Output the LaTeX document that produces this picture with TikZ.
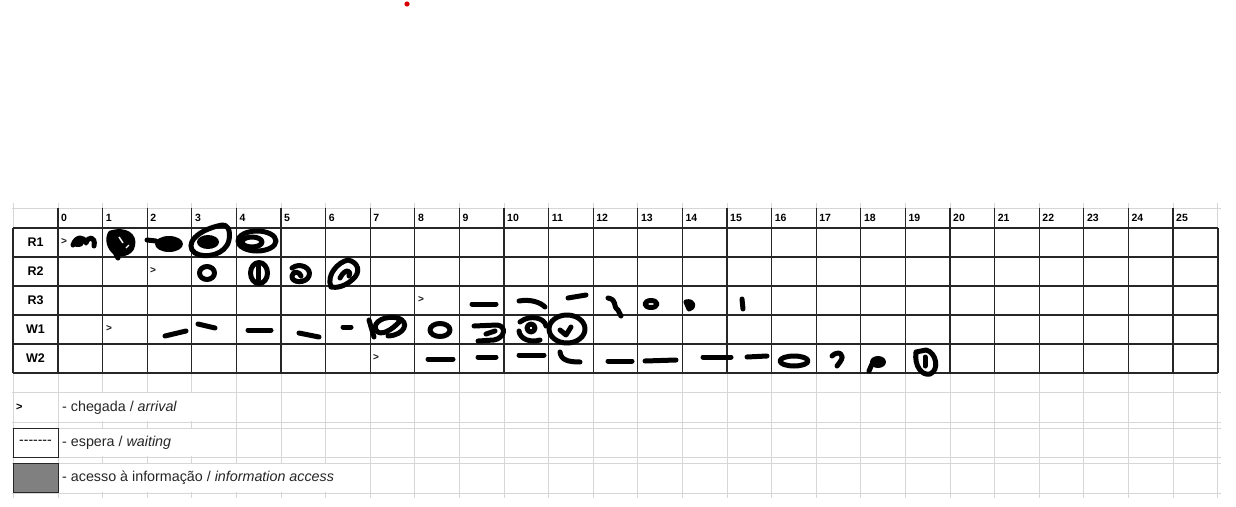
\documentclass[tikz,border=0pt]{standalone}
\usepackage{fontspec}
\setmainfont{Liberation Sans}
\usetikzlibrary{positioning,calc}

\tikzset{
  gridline/.style={draw=black!16,line width=1pt},
  tabline/.style={draw=black!85,line width=1.3pt},
  hdr/.style={font=\fontsize{10.5}{12}\selectfont\bfseries,anchor=west,inner sep=0pt},
  rowlab/.style={font=\fontsize{12.5}{14}\selectfont\bfseries,inner sep=0pt},
  arrmark/.style={font=\fontsize{10}{11}\selectfont\bfseries,anchor=west,inner sep=0pt,text=black!90},
  legtext/.style={font=\fontsize{14.3}{17}\selectfont,anchor=west,inner sep=0pt,text=black!85},
  legbox/.style={draw=black!85,line width=1pt,minimum width=45pt,inner sep=0pt},
  scrib/.style={line width=5pt,line cap=round,line join=round},
  mask/.style={fill=white,draw=none}
}

\begin{document}
\begin{tikzpicture}[x=1pt,y=-1pt]
  \useasboundingbox (0,0) rectangle (1236,506);

  % sheet grid
  \foreach \i in {0,...,26}
    \draw[gridline] ({58+44.6*\i},203) -- ({58+44.6*\i},498);
  \draw[gridline] (13,203) -- (13,498);
  \foreach \y in {208,392,422,428,457,463,493}
    \draw[gridline] (12,\y) -- (1221,\y);

  % text overflow hides the grid
  \fill[mask] (59,393) rectangle (191.5,421);
  \fill[mask] (59,429) rectangle (191.5,456);
  \fill[mask] (59,464) rectangle (369,492);

  % table
  \foreach \y in {228,257,286,315,344,373}
    \draw[tabline] (13,\y) -- (1218,\y);
  \foreach \i in {0,...,25}
    \draw[tabline] ({58+44.6*\i},208) -- ({58+44.6*\i},373);
  \draw[tabline] (13,228) -- (13,373);
  \draw[tabline] (1218,228) -- (1218,373);

  \foreach \i in {0,...,25}
    \node[hdr] (h\i) at ({61+44.6*\i},218) {\i};
  \foreach \r/\y in {R1/242.5,R2/271.5,R3/300.5,W1/329.5,W2/358.5}
    \node[rowlab] (\r) at (35.5,\y) {\r};

  \node[arrmark] (arrR1) at (61,241) {>};
  \node[arrmark] (arrR2) at (150,270) {>};
  \node[arrmark] (arrR3) at (418,299.5) {>};
  \node[arrmark] (arrW1) at (106,328.5) {>};
  \node[arrmark] (arrW2) at (373,357.5) {>};

  % R1
  \fill (78,243) ellipse (6 and 4);
  \draw[scrib] (73,245) .. controls (76,236) and (84,236) .. (86,243) .. controls (88,236) and (96,236) .. (94,246);
  \fill (109,231) .. controls (126,225) and (138,234) .. (135,246) .. controls (133,257) and (118,259) .. (112,253) .. controls (105,246) and (105,236) .. (109,231);
  \draw[scrib] (114,250) -- (118,258);
  \draw[white,line width=1.5pt] (119,237) -- (123,243);
  \draw[white,line width=1.2pt] (126,248) -- (129,245);
  \draw[scrib] (147,240) -- (156,241);
  \fill (169,244) ellipse (14 and 8);
  \draw[scrib] (222,225) .. controls (196,230) and (184,245) .. (195,253) .. controls (205,259) and (226,255) .. (229,240) .. controls (231,230) and (227,224) .. (222,225);
  \fill (208,242) ellipse (11 and 7);
  \draw[scrib] (257,241) ellipse (19 and 10);
  \draw[scrib] (252,242) ellipse (10 and 5);
  % R2
  \draw[scrib] (207,273) ellipse (7.5 and 6.5);
  \draw[scrib] (259,273) ellipse (8.5 and 10.5);
  \draw[scrib] (258,266) -- (258,280);
  \draw[scrib] (292,268) .. controls (300,262) and (312,268) .. (309,276) .. controls (306,284) and (291,283) .. (292,276) .. controls (293,270) and (300,272) .. (301,276);
  \draw[scrib] (331,287) .. controls (326,275) and (338,262) .. (348,260) .. controls (358,262) and (362,272) .. (352,280) .. controls (344,287) and (336,288) .. (331,287);
  \draw[scrib] (340,278) .. controls (345,268) and (352,270) .. (349,276);
  % R3
  \draw[scrib] (472,304) -- (496,304);
  \draw[scrib] (519,301) .. controls (530,299) and (540,302) .. (545,307);
  \draw[scrib] (568,298) -- (586,295);
  \draw[scrib] (608,298) .. controls (618,300) and (612,306) .. (618,310) -- (621,316);
  \draw[scrib] (651,304) ellipse (6 and 3.5);
  \draw[scrib] (686,302) .. controls (694,300) and (695,308) .. (689,309) -- (686,302);
  \draw[scrib] (742,299) -- (743,309);
  % W1
  \draw[scrib] (165,336) -- (186,331);
  \draw[scrib] (198,324) -- (215,328);
  \draw[scrib] (248,330) -- (271,330);
  \draw[scrib] (299,333) -- (319,337);
  \draw[scrib] (343,327) -- (351,327);
  \draw[scrib] (388,336) .. controls (405,335) and (410,322) .. (398,318) .. controls (385,315) and (372,322) .. (376,330) .. controls (380,337) and (392,330) .. (399,322);
  \draw[scrib] (369,320) -- (374,337);
  \draw[scrib] (440,330) ellipse (10 and 6.5);
  \draw[scrib] (474,326) -- (497,325) .. controls (507,326) and (505,338) .. (494,340) -- (478,341);
  \draw[scrib] (486,334) -- (495,331);
  \draw[scrib] (520,322) .. controls (530,314) and (545,318) .. (546,326);
  \draw[scrib] (519,331) .. controls (520,339) and (530,343) .. (540,340);
  \draw[scrib] (531,328) ellipse (4 and 4);
  \draw[scrib] (567,329) ellipse (18 and 14);
  \draw[scrib] (560,330) -- (566,335) -- (571,327);
  % W2
  \draw[scrib] (428,359) -- (453,359);
  \draw[scrib] (478,357) -- (496,357);
  \draw[scrib] (519,355) -- (544,355);
  \draw[scrib] (560,352) .. controls (561,360) and (568,362) .. (580,362);
  \draw[scrib] (608,361) -- (632,361);
  \draw[scrib] (645,361) -- (676,360);
  \draw[scrib] (703,357) -- (731,357);
  \draw[scrib] (747,357) -- (767,356);
  \draw[scrib] (794,361) ellipse (14 and 5);
  \draw[scrib] (832,356) .. controls (838,350) and (846,354) .. (840,362) -- (837,366);
  \fill (878,362) ellipse (8 and 6);
  \draw[scrib] (872,364) -- (869,371);
  \draw[scrib] (916,352) .. controls (914,366) and (922,376) .. (930,374) .. controls (940,370) and (936,352) .. (926,350) -- (916,352);
  \draw[scrib] (925,357) -- (925,366);

  % legend
  \node[font=\fontsize{11}{12}\selectfont\bfseries,inner sep=0pt,anchor=west] (legarr) at (16,407) {>};
  \node[legbox,minimum height=29pt,font=\fontsize{14}{16}\selectfont] (waitbox) at (35.5,442.5) {-{}-{}-{}-{}-{}-{}-};
  \node[legbox,minimum height=29.5pt,fill=black!50] (accbox) at (35.5,478.2) {};
  \node[legtext] (chegada) at (62,407.5) {- chegada / \textit{arrival}};
  \node[legtext] (espera) at (62,442.5) {- espera / \textit{waiting}};
  \node[legtext] (acesso) at (62,478) {- acesso à informação / \textit{information access}};

  \fill[red!85!black] (407,4) circle (2.6);
\end{tikzpicture}
\end{document}
